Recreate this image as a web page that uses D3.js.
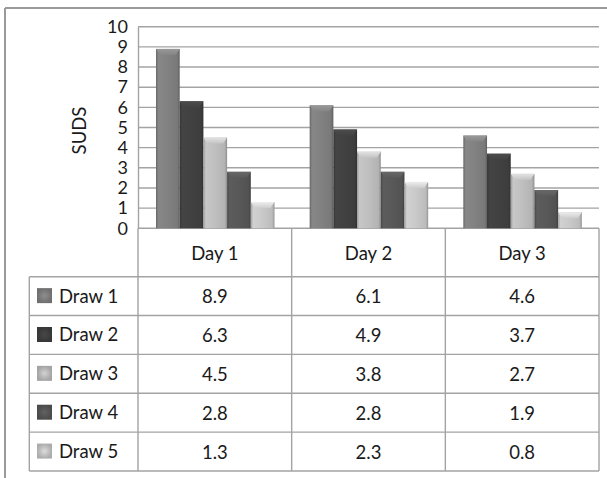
<!DOCTYPE html>
<html>
<head>
<meta charset="utf-8">
<script src="https://cdn.jsdelivr.net/npm/d3@7/dist/d3.min.js"></script>
<style>
  html, body { margin: 0; padding: 0; background: #fff; }
  svg { display: block; }
  text { font-family: Lato, "Open Sans", "Liberation Sans", sans-serif; fill: #1a1a1a; }
</style>
</head>
<body>
<svg id="chart" width="607" height="478"></svg>
<script>
// Days on the x axis and the five draws per day
const days = ["Day 1", "Day 2", "Day 3"];
const draws = ["Draw 1", "Draw 2", "Draw 3", "Draw 4", "Draw 5"];
const draw1 = [8.9, 6.1, 4.6];
const draw2 = [6.3, 4.9, 3.7];
const draw3 = [4.5, 3.8, 2.7];
const draw4 = [2.8, 2.8, 1.9];
const draw5 = [1.3, 2.3, 0.8];
const yTicks = [0, 1, 2, 3, 4, 5, 6, 7, 8, 9, 10];
const yLabel = "SUDS";

const seriesValues = [draw1, draw2, draw3, draw4, draw5];
const shades = ["#808080", "#404040", "#bdbdbd", "#575757", "#c6c6c6"];

const svg = d3.select("#chart");
const defs = svg.append("defs");

const plot = { left: 138, right: 599, top: 26.7, bottom: 228.3 };
const rowTop = 276.7, rowH = 38.86;
const tableLeft = 29.3;
const gridColor = "#a3a3a3";
const fontSize = 18.5;

const x0 = d3.scaleBand().domain(days).range([plot.left, plot.right]);
const x1 = d3.scaleBand().domain(draws).range([18, 136.5]);
const y = d3.scaleLinear().domain([0, 10]).range([plot.bottom, plot.top]);

// outer frame (top and left edges)
svg.append("line").attr("x1", 5).attr("x2", 607).attr("y1", 8).attr("y2", 8)
  .attr("stroke", "#9a9a9a").attr("stroke-width", 2);
svg.append("line").attr("x1", 5).attr("x2", 5).attr("y1", 8).attr("y2", 478)
  .attr("stroke", "#9a9a9a").attr("stroke-width", 2);

// gradients giving each series a rounded, shaded look
shades.forEach((c, i) => {
  const base = d3.color(c);
  const g = defs.append("linearGradient").attr("id", "body" + i)
    .attr("x1", "0%").attr("x2", "100%").attr("y1", "0%").attr("y2", "0%");
  g.append("stop").attr("offset", "0%").attr("stop-color", base.darker(0.6));
  g.append("stop").attr("offset", "10%").attr("stop-color", base.brighter(0.15));
  g.append("stop").attr("offset", "45%").attr("stop-color", base.brighter(0.05));
  g.append("stop").attr("offset", "90%").attr("stop-color", base.darker(0.15));
  g.append("stop").attr("offset", "100%").attr("stop-color", base.darker(0.8));
  const cap = defs.append("linearGradient").attr("id", "cap" + i)
    .attr("x1", "0%").attr("x2", "0%").attr("y1", "0%").attr("y2", "100%");
  cap.append("stop").attr("offset", "0%").attr("stop-color", base.brighter(0.5));
  cap.append("stop").attr("offset", "100%").attr("stop-color", base.brighter(0.1));
  const sw = defs.append("radialGradient").attr("id", "swatch" + i);
  sw.append("stop").attr("offset", "0%").attr("stop-color", base.brighter(0.3));
  sw.append("stop").attr("offset", "100%").attr("stop-color", base.darker(0.4));
});

// horizontal gridlines
svg.append("g").selectAll("line").data(yTicks).join("line")
  .attr("x1", plot.left).attr("x2", plot.right)
  .attr("y1", d => y(d)).attr("y2", d => y(d))
  .attr("stroke", gridColor).attr("stroke-width", 1.4);

// value axis
const yAxis = svg.append("g").attr("transform", `translate(${plot.left},0)`)
  .call(d3.axisLeft(y).tickValues(yTicks).tickSize(0).tickPadding(10));
yAxis.select(".domain").attr("stroke", gridColor).attr("stroke-width", 1.4);
yAxis.selectAll("text").attr("font-size", 18).style("font-family", "Lato, sans-serif").attr("fill", "#1a1a1a");

svg.append("text").attr("transform", `translate(86,${(plot.top + plot.bottom) / 2 + 3}) rotate(-90)`)
  .attr("text-anchor", "middle").attr("font-size", fontSize).text(yLabel);

// bars
const groups = svg.append("g").selectAll("g").data(days).join("g")
  .attr("transform", d => `translate(${x0(d)},0)`);
groups.each(function(day, di) {
  const g = d3.select(this);
  draws.forEach((s, si) => {
    const v = seriesValues[si][di];
    const bx = x1(s), bw = x1.bandwidth();
    const top = y(v), bot = y(0);
    g.append("rect").attr("x", bx).attr("y", top).attr("width", bw).attr("height", bot - top)
      .attr("fill", `url(#body${si})`);
    const capH = Math.min(6, bot - top);
    g.append("path")
      .attr("d", `M${bx},${top}L${bx + bw},${top}L${bx + bw - 4},${top + capH}L${bx + 4},${top + capH}Z`)
      .attr("fill", `url(#cap${si})`);
  });
});

// data table
const tableLines = svg.append("g").attr("stroke", gridColor).attr("stroke-width", 1.4);
const rowYs = d3.range(draws.length + 1).map(i => rowTop + i * rowH);
const tableBottom = rowYs[rowYs.length - 1];
// horizontal rules
rowYs.forEach(ry => tableLines.append("line")
  .attr("x1", tableLeft).attr("x2", plot.right).attr("y1", ry).attr("y2", ry));
// vertical rules
tableLines.append("line").attr("x1", tableLeft).attr("x2", tableLeft).attr("y1", rowTop).attr("y2", tableBottom);
[plot.left, ...days.map(d => x0(d) + x0.bandwidth())].forEach(vx =>
  tableLines.append("line").attr("x1", vx).attr("x2", vx).attr("y1", plot.bottom).attr("y2", tableBottom));

// header row
svg.append("g").selectAll("text").data(days).join("text")
  .attr("x", d => x0(d) + x0.bandwidth() / 2)
  .attr("y", (plot.bottom + rowTop) / 2 + 7)
  .attr("text-anchor", "middle").attr("font-size", fontSize).text(d => d);

// body rows: legend key, then values
draws.forEach((s, si) => {
  const cy = rowTop + si * rowH + rowH / 2;
  svg.append("rect").attr("x", 37).attr("y", cy - 8).attr("width", 15).attr("height", 15)
    .attr("fill", `url(#swatch${si})`);
  svg.append("text").attr("x", 59).attr("y", cy + 6.5).attr("font-size", fontSize).text(s);
  days.forEach((d, di) => {
    svg.append("text").attr("x", x0(d) + x0.bandwidth() / 2).attr("y", cy + 7)
      .attr("text-anchor", "middle").attr("font-size", fontSize)
      .text(d3.format(".1f")(seriesValues[si][di]));
  });
});
</script>
</body>
</html>
